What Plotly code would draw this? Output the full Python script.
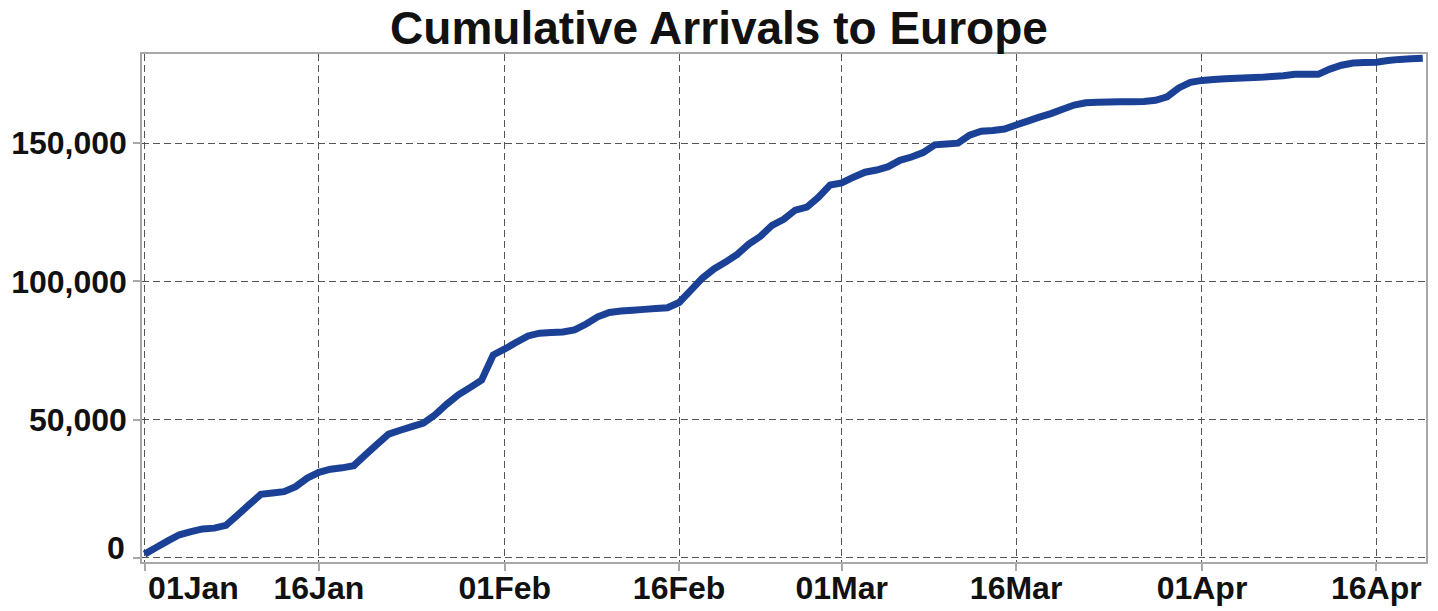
import plotly.graph_objects as go
import pandas as pd

# Daily cumulative arrivals (thousands), 1 Jan 2016 .. 20 Apr 2016
start_date = "2016-01-01"
arrivals_k = [
    1.4, 3.8, 6.2, 8.4, 9.5, 10.5, 10.8, 11.8, 15.5, 19.3,
    23.0, 23.5, 24.0, 25.8, 28.9, 31.0, 32.1, 32.6, 33.4, 37.3,
    41.1, 44.8, 46.2, 47.5, 48.8, 51.8, 55.6, 59.0, 61.6, 64.3,
    73.4, 75.6, 78.0, 80.3, 81.3, 81.5, 81.7, 82.5, 84.6, 87.2,
    88.8, 89.3, 89.6, 89.9, 90.2, 90.5, 92.4, 96.8, 101.2, 104.5,
    107.0, 109.8, 113.5, 116.3, 120.3, 122.5, 125.8, 126.9, 130.5, 134.9,
    135.6, 137.7, 139.5, 140.3, 141.5, 143.8, 145.0, 146.6, 149.4, 149.7,
    150.0, 152.9, 154.3, 154.6, 155.1, 156.6, 158.0, 159.4, 160.7, 162.3,
    163.8, 164.6, 164.8, 164.9, 165.0, 165.0, 165.1, 165.5, 166.8, 170.0,
    172.0, 172.7, 173.0, 173.3, 173.5, 173.7, 173.8, 174.1, 174.4, 174.9,
    174.9, 174.9, 176.8, 178.2, 179.0, 179.2, 179.3, 179.9, 180.3, 180.5,
    180.7,
]
dates = pd.date_range(start_date, periods=len(arrivals_k), freq="D")
arrivals = [v * 1000 for v in arrivals_k]

x_tick_dates = ["2016-01-01", "2016-01-16", "2016-02-01", "2016-02-16",
                "2016-03-01", "2016-03-16", "2016-04-01", "2016-04-16"]
x_tick_text = ["\u00a0" * 11 + "01Jan", "16Jan", "01Feb", "16Feb",
               "01Mar", "16Mar", "01Apr", "16Apr"]
y_tick_vals = [0, 50000, 100000, 150000]
y_tick_text = ["", "50,000", "100,000", "150,000"]
zero_label = "0"

title_text = "Cumulative Arrivals to Europe"

fig = go.Figure()
fig.add_trace(go.Scatter(
    x=dates, y=arrivals, mode="lines",
    line=dict(color="#1b4196", width=7, simplify=False),
    hoverinfo="skip", showlegend=False,
))
# invisible copy bound to the label axis so it is drawn with the same range
fig.add_trace(go.Scatter(
    x=dates, y=arrivals, mode="lines", xaxis="x2",
    line=dict(color="rgba(0,0,0,0)", width=0),
    hoverinfo="skip", showlegend=False,
))

font_family = "Liberation Sans, Arial, sans-serif"
tick_font = dict(size=32, family=font_family, color="#111111")
fig.update_layout(
    width=1438, height=611,
    margin=dict(l=142, r=12, t=54, b=49),
    paper_bgcolor="white", plot_bgcolor="white",
    title=dict(text="<b>" + title_text + "</b>", x=0.5, xref="container",
               y=0.955, yref="container", yanchor="middle", xanchor="center",
               font=dict(family=font_family, size=46, color="#111111")),
    font=dict(family=font_family, color="#111111"),
)
fig.add_annotation(
    x=0, xref="paper", y=y_tick_vals[0], yref="y",
    text="<b>" + zero_label + "</b>", showarrow=False,
    xanchor="right", yanchor="middle", xshift=-15, yshift=10,
    font=tick_font,
)
common = dict(
    showgrid=True, gridcolor="#555555", griddash="7px,4px", gridwidth=1,
    showline=True, linecolor="#a8a8a8", linewidth=1.5, mirror=True,
    ticks="outside", ticklen=7, tickcolor="#a8a8a8", tickwidth=1.5,
    zeroline=False, automargin=False, tickfont=tick_font,
)
x_range = ["2015-12-31 18:40", "2016-04-20 06:40"]
fig.update_layout(
    xaxis=dict(type="date", range=x_range, tickvals=x_tick_dates,
               showticklabels=False, **common),
    xaxis2=dict(type="date", range=x_range, matches="x", overlaying="x",
                side="bottom", anchor="y",
                tickvals=x_tick_dates,
                ticktext=["<b>" + t + "</b>" for t in x_tick_text],
                tickfont=tick_font, ticks="", ticklabelstandoff=4,
                showgrid=False, showline=False, zeroline=False,
                automargin=False),
    yaxis=dict(range=[-1450, 182250], tickvals=y_tick_vals,
               ticktext=["<b>" + t + "</b>" if t else "" for t in y_tick_text],
               **common),
)

fig.write_html("out.html", config={"displayModeBar": False},
               post_script="document.body.style.margin='0';document.body.style.overflow='hidden';")
